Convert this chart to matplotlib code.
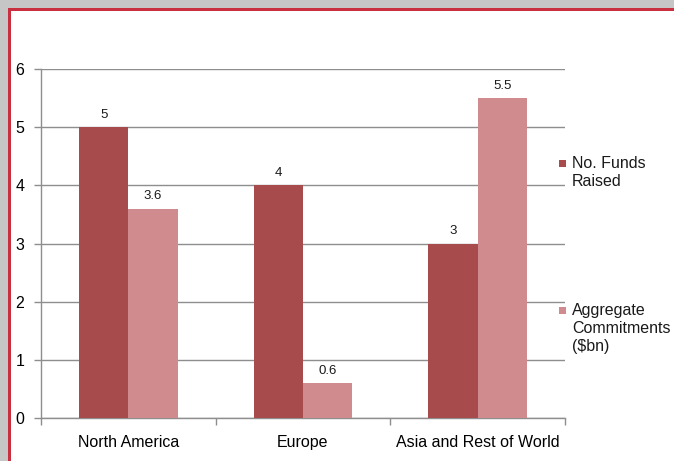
import matplotlib
matplotlib.use("Agg")
import matplotlib.pyplot as plt
from matplotlib.patches import Rectangle
import numpy as np

plt.rcParams['font.family'] = ['Liberation Sans', 'DejaVu Sans']

categories = ["North America", "Europe", "Asia and Rest of World"]
series_names = ["No. Funds\nRaised", "Aggregate\nCommitments\n($bn)"]
funds_raised = [5, 4, 3]
commitments = [3.6, 0.6, 5.5]
value_labels_funds = ["5", "4", "3"]
value_labels_comm = ["3.6", "0.6", "5.5"]
yticks = [0, 1, 2, 3, 4, 5, 6]

dark = "#A84B4C"
light = "#CF8B8E"
grid_c = "#8E8E8E"

fig = plt.figure(figsize=(6.74, 4.61), dpi=100)
fig.patch.set_facecolor("white")

# Outer frame: grey strip and red border
fig.patches.append(Rectangle((0, 1 - 8/461), 1, 8/461, transform=fig.transFigure,
                             facecolor="#C6C6C6", edgecolor="none", zorder=0))
fig.patches.append(Rectangle((0, 0), 8/674, 1, transform=fig.transFigure,
                             facecolor="#C6C6C6", edgecolor="none", zorder=0))
fig.patches.append(Rectangle((8/674, 1 - 11/461), 1, 3/461, transform=fig.transFigure,
                             facecolor="#C8303F", edgecolor="none", zorder=1))
fig.patches.append(Rectangle((8/674, 0), 3/674, 1 - 8/461, transform=fig.transFigure,
                             facecolor="#C8303F", edgecolor="none", zorder=1))

ax = fig.add_axes([41/674, 43/461, 524/674, 349/461])
x = np.arange(len(categories))
w = 0.283
b1 = ax.bar(x - w/2, funds_raised, w, color=dark, zorder=3)
b2 = ax.bar(x + w/2, commitments, w, color=light, zorder=3)

for rect, lab in zip(b1, value_labels_funds):
    ax.annotate(lab, (rect.get_x() + rect.get_width()/2, rect.get_height()),
                xytext=(0, 4.5), textcoords="offset points", ha="center", va="bottom",
                fontsize=9.5, color="#1a1a1a")
for rect, lab in zip(b2, value_labels_comm):
    ax.annotate(lab, (rect.get_x() + rect.get_width()/2, rect.get_height()),
                xytext=(0, 4.5), textcoords="offset points", ha="center", va="bottom",
                fontsize=9.5, color="#1a1a1a")

ax.set_xlim(-0.5, len(categories) - 0.5)
ax.set_ylim(0, 6)
ax.set_yticks(yticks)
ax.set_yticklabels([str(t) for t in yticks], fontsize=11.5)
ax.yaxis.grid(True, color=grid_c, linewidth=1.0, zorder=0)
ax.set_axisbelow(True)

ax.set_xticks(x)
ax.set_xticklabels(categories, fontsize=11.5)
ax.set_xticks(np.arange(-0.5, len(categories)), minor=True)
ax.tick_params(axis="x", which="major", length=0, pad=12)
ax.tick_params(axis="x", which="minor", length=5, color=grid_c, width=1)
ax.tick_params(axis="y", length=5, color=grid_c, width=1, pad=7)

for s in ["top", "right"]:
    ax.spines[s].set_visible(False)
for s in ["left", "bottom"]:
    ax.spines[s].set_color(grid_c)
    ax.spines[s].set_linewidth(1.0)

# Legend (markers aligned with first line of text, as in the reference)
legend_colors = [dark, light]
legend_tops = [157, 304]
for name, col, top in zip(series_names, legend_colors, legend_tops):
    fig.patches.append(Rectangle((559/674, 1 - (top + 10)/461), 7/674, 7/461,
                                 transform=fig.transFigure, facecolor=col,
                                 edgecolor="none"))
    fig.text(572/674, 1 - (top - 1)/461, name, ha="left", va="top",
             fontsize=11.5, linespacing=1.26, color="#1a1a1a")

fig.savefig("out.png", dpi=100)
